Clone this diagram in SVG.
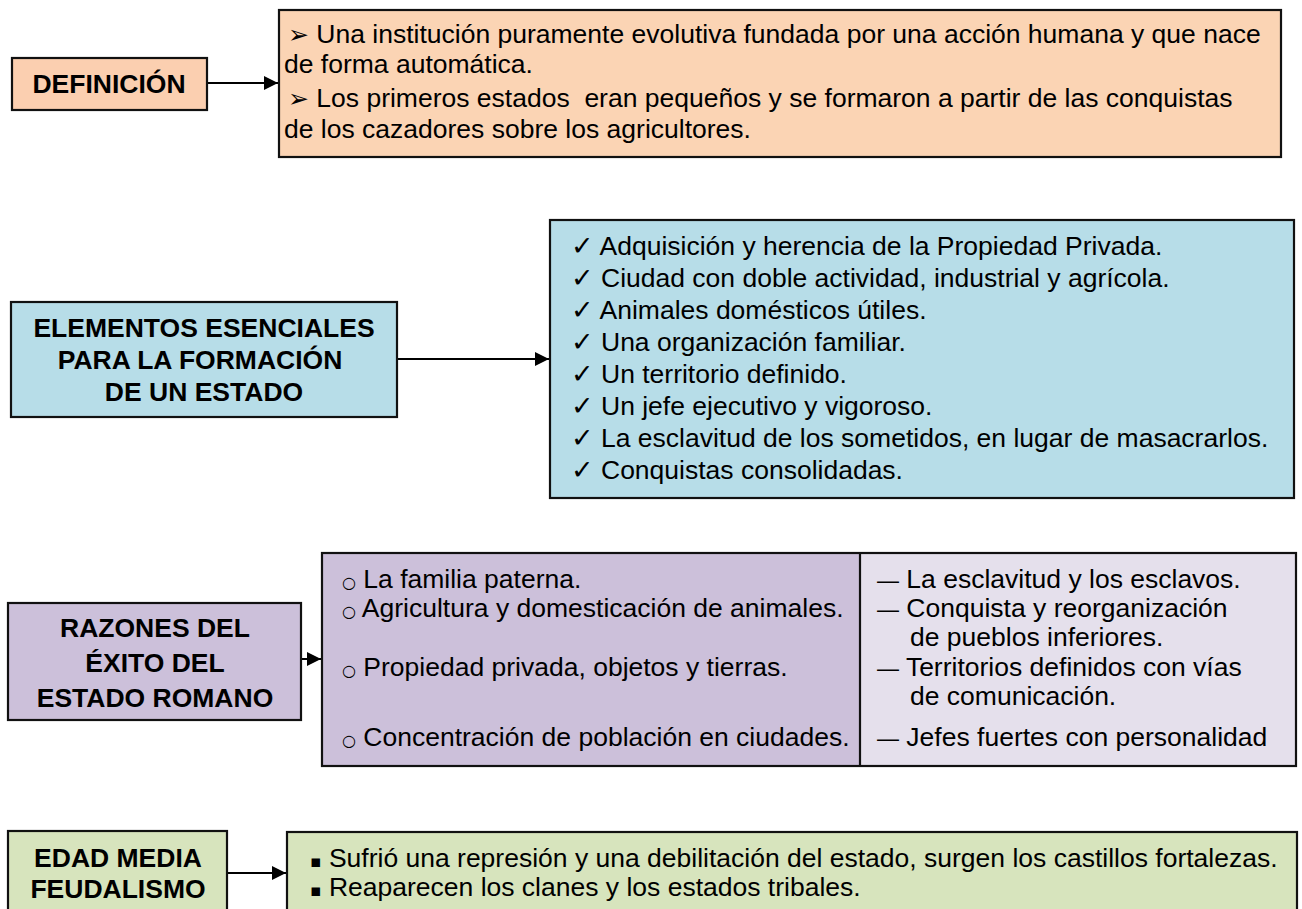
<svg xmlns="http://www.w3.org/2000/svg" width="1302" height="909" viewBox="0 0 1302 909">
<style>
.box{stroke:#111;stroke-width:2.2}
.h{font-family:"Liberation Sans",Arial,sans-serif;font-weight:bold;font-size:26.5px;fill:#000;text-anchor:middle}
.t{font-family:"Liberation Sans",Arial,"DejaVu Sans",sans-serif;font-size:26.5px;fill:#000}
.arr{font-family:"DejaVu Sans",sans-serif;font-size:25px}
.chk{font-family:"DejaVu Sans",sans-serif;font-size:27px}
.cir{font-family:"DejaVu Sans",sans-serif;font-size:16px}
.sq{font-family:"DejaVu Sans",sans-serif;font-size:17px}
.dash{font-size:22px}
.c{stroke:#000;stroke-width:2;fill:none}
</style>
<defs>
<marker id="ah" viewBox="0 0 10 10" refX="10" refY="5" markerWidth="7" markerHeight="7" markerUnits="strokeWidth" orient="auto">
<path d="M0,0 L10,5 L0,10 Z" fill="#000"/>
</marker>
</defs>
<rect width="1302" height="909" fill="#fff"/>

<g id="connectors">
<line class="c" x1="207" y1="83" x2="278" y2="83" marker-end="url(#ah)"/>
<line class="c" x1="397" y1="359" x2="549" y2="359" marker-end="url(#ah)"/>
<line class="c" x1="301" y1="659" x2="321" y2="659" marker-end="url(#ah)"/>
<line class="c" x1="227" y1="873" x2="286" y2="873" marker-end="url(#ah)"/>
</g>

<g id="definicion">
<rect class="box" x="12" y="58" width="195" height="52" fill="#FBCFB0"/>
<text class="h" x="109" y="93">DEFINICIÓN</text>
</g>

<g id="definicion-detalle">
<rect class="box" x="279" y="10" width="1002" height="147" fill="#FBD4B4"/>
<text class="t" x="288" y="43"><tspan class="arr">➢</tspan> Una institución puramente evolutiva fundada por una acción humana y que nace</text>
<text class="t" x="284" y="73">de forma automática.</text>
<text class="t" x="288" y="107"><tspan class="arr">➢</tspan> Los primeros estados&#160; eran pequeños y se formaron a partir de las conquistas</text>
<text class="t" x="284" y="138">de los cazadores sobre los agricultores.</text>
</g>

<g id="elementos">
<rect class="box" x="11" y="302" width="386" height="115" fill="#B7DDE8"/>
<text class="h" x="204" y="337">ELEMENTOS ESENCIALES</text>
<text class="h" x="200" y="369">PARA LA FORMACIÓN</text>
<text class="h" x="204" y="401">DE UN ESTADO</text>
</g>

<g id="elementos-detalle">
<rect class="box" x="550" y="220" width="744" height="278" fill="#B7DDE8"/>
<text class="t" x="571" y="255"><tspan class="chk">✓</tspan> Adquisición y herencia de la Propiedad Privada.</text>
<text class="t" x="571" y="287"><tspan class="chk">✓</tspan> Ciudad con doble actividad, industrial y agrícola.</text>
<text class="t" x="571" y="319"><tspan class="chk">✓</tspan> Animales domésticos útiles.</text>
<text class="t" x="571" y="351"><tspan class="chk">✓</tspan> Una organización familiar.</text>
<text class="t" x="571" y="383"><tspan class="chk">✓</tspan> Un territorio definido.</text>
<text class="t" x="571" y="415"><tspan class="chk">✓</tspan> Un jefe ejecutivo y vigoroso.</text>
<text class="t" x="571" y="447"><tspan class="chk">✓</tspan> La esclavitud de los sometidos, en lugar de masacrarlos.</text>
<text class="t" x="571" y="479"><tspan class="chk">✓</tspan> Conquistas consolidadas.</text>
</g>

<g id="razones">
<rect class="box" x="8" y="603" width="293" height="117" fill="#CCC0DA"/>
<text class="h" x="155" y="637">RAZONES DEL</text>
<text class="h" x="155" y="672">ÉXITO DEL</text>
<text class="h" x="155" y="707">ESTADO ROMANO</text>
</g>

<g id="razones-detalle">
<rect x="322" y="553" width="538" height="213" fill="#CCC0DA"/>
<rect x="860" y="553" width="436" height="213" fill="#E5E0EC"/>
<rect class="box" x="322" y="553" width="974" height="213" fill="none"/>
<line class="box" x1="860" y1="553" x2="860" y2="766"/>
<text class="t" x="342" y="588"><tspan class="cir">○</tspan> La familia paterna.</text>
<text class="t" x="342" y="617"><tspan class="cir">○</tspan> Agricultura y domesticación de animales.</text>
<text class="t" x="342" y="676"><tspan class="cir">○</tspan> Propiedad privada, objetos y tierras.</text>
<text class="t" x="342" y="746"><tspan class="cir">○</tspan> Concentración de población en ciudades.</text>
<text class="t" x="877" y="588"><tspan class="dash">—</tspan> La esclavitud y los esclavos.</text>
<text class="t" x="877" y="617"><tspan class="dash">—</tspan> Conquista y reorganización</text>
<text class="t" x="910" y="646">de pueblos inferiores.</text>
<text class="t" x="877" y="676"><tspan class="dash">—</tspan> Territorios definidos con vías</text>
<text class="t" x="910" y="705">de comunicación.</text>
<text class="t" x="877" y="746"><tspan class="dash">—</tspan> Jefes fuertes con personalidad</text>
</g>

<g id="edad-media">
<rect class="box" x="8" y="831" width="219" height="90" fill="#D7E4BD"/>
<text class="h" x="118" y="867">EDAD MEDIA</text>
<text class="h" x="118" y="898">FEUDALISMO</text>
</g>

<g id="edad-media-detalle">
<rect class="box" x="287" y="832" width="1010" height="90" fill="#D7E4BD"/>
<text class="t" x="310" y="867"><tspan class="sq">▪</tspan> Sufrió una represión y una debilitación del estado, surgen los castillos fortalezas.</text>
<text class="t" x="310" y="896"><tspan class="sq">▪</tspan> Reaparecen los clanes y los estados tribales.</text>
</g>
</svg>
